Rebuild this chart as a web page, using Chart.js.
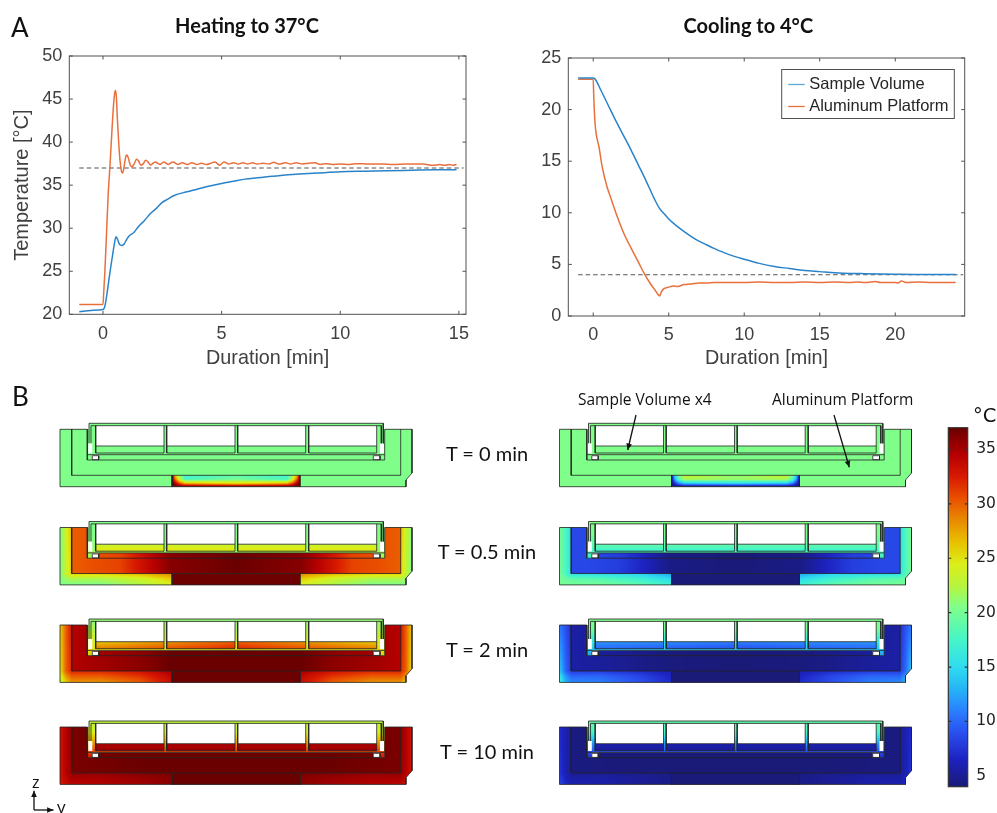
<!DOCTYPE html>
<html>
<head>
<meta charset="utf-8">
<title>Heating and cooling</title>
<script src="https://cdn.jsdelivr.net/npm/chart.js@4/dist/chart.umd.min.js"></script>
<style>
  html, body { margin: 0; padding: 0; background: #fff; }
  body { width: 997px; height: 813px; position: relative; overflow: hidden; }
  canvas { position: absolute; filter: blur(0.4px); }
  .lbl { position: absolute; white-space: nowrap; color: #111; font-family: Lato, sans-serif; line-height: 1; filter: blur(0.3px); }
</style>
</head>
<body>
<canvas id="heatChart" style="left:0;top:0"></canvas>
<canvas id="coolChart" style="left:500px;top:0"></canvas>
<canvas id="mapChart" style="left:0;top:380px"></canvas>
<canvas id="barChart" style="left:940px;top:400px"></canvas>

<div class="lbl" style="left:11px;top:14px;font-size:26px">A</div>
<div class="lbl" style="left:12px;top:383px;font-size:26px">B</div>
<div class="lbl" style="left:578px;top:392px;font-size:15.5px;font-family:'Open Sans'">Sample Volume x4</div>
<div class="lbl" style="left:772px;top:392px;font-size:15.5px;font-family:'Open Sans'">Aluminum Platform</div>
<div class="lbl" style="left:973px;top:406px;font-size:19.5px;font-family:'DejaVu Sans'">°C</div>
<div class="lbl" style="left:32px;top:774px;font-size:16px;font-family:'Open Sans'">z</div>
<div class="lbl" style="left:57px;top:798px;font-size:17px;font-family:'Open Sans'">y</div>
<div id="timeLabels"></div>

<script>
// panel A
const heatTicksX = [0, 5, 10, 15];
const heatTicksY = [20, 25, 30, 35, 40, 45, 50];
const coolTicksX = [0, 5, 10, 15, 20];
const coolTicksY = [0, 5, 10, 15, 20, 25];
const barTicks = [5, 10, 15, 20, 25, 30, 35];

const heatSampleT = [-1, -0.5, 0, 0.05, 0.1, 0.2, 0.3, 0.4, 0.5, 0.55, 0.6, 0.7, 0.8, 0.9, 1, 1.1, 1.3, 1.5, 1.75, 2, 2.25, 2.5, 2.75, 3, 3.5, 4, 4.5, 5, 5.5, 6, 6.5, 7, 8, 9, 10, 11, 12, 13, 14, 14.9];
const heatSampleV = [20.3, 20.45, 20.55, 20.7, 21.2, 23, 25, 26.8, 28.5, 29, 28.8, 28.1, 28, 28.2, 28.7, 29.1, 29.5, 30.2, 30.9, 31.7, 32.3, 33, 33.4, 33.8, 34.2, 34.55, 34.9, 35.2, 35.45, 35.7, 35.85, 36, 36.25, 36.4, 36.55, 36.62, 36.68, 36.73, 36.78, 36.8];

const heatPlateT = [-1, 0, 0.03, 0.08, 0.15, 0.22, 0.3, 0.38, 0.45, 0.5, 0.53, 0.57, 0.6, 0.66, 0.72, 0.78, 0.82, 0.87, 0.92, 0.97, 1, 1.05, 1.12, 1.21, 1.3, 1.42, 1.5, 1.6, 1.7, 1.8, 1.9, 2, 2.2, 2.4, 2.55, 2.75, 2.95, 3.15, 3.35, 3.55, 3.75, 3.95, 4.15, 4.35, 4.55, 4.72, 4.92, 5.1, 5.3, 5.5, 5.7, 5.9, 6.1, 6.3, 6.5, 6.75, 7, 7.2, 7.4, 7.7, 7.9, 8.15, 8.4, 8.65, 8.95, 9.15, 9.4, 9.65, 10, 10.4, 10.7, 11.2, 11.8, 12.2, 12.8, 13.5, 13.9, 14.2, 14.4, 14.6, 14.75, 14.9];
const heatPlateV = [21.15, 21.15, 22.5, 25, 29.5, 34, 37.5, 41.5, 44.5, 45.8, 46, 45, 43, 40, 37.8, 36.6, 36.4, 36.8, 37.7, 38.4, 38.5, 38.3, 37.6, 37.1, 37.4, 38, 37.8, 37.3, 37.5, 37.9, 37.7, 37.35, 37.7, 37.4, 37.7, 37.4, 37.7, 37.4, 37.6, 37.4, 37.6, 37.4, 37.55, 37.4, 37.55, 37.7, 37.3, 37.7, 37.45, 37.6, 37.45, 37.6, 37.45, 37.6, 37.45, 37.55, 37.45, 37.65, 37.45, 37.6, 37.45, 37.6, 37.45, 37.55, 37.6, 37.4, 37.5, 37.4, 37.45, 37.4, 37.5, 37.45, 37.45, 37.4, 37.45, 37.45, 37.3, 37.4, 37.3, 37.4, 37.3, 37.4];

const coolSampleT = [-1, 0, 0.1, 0.5, 1, 1.5, 2, 2.5, 3, 3.5, 4, 4.4, 4.7, 5, 5.5, 6, 6.5, 7, 7.5, 8, 9, 10, 11, 12, 13, 14, 15, 16, 17, 18, 20, 22, 24];
const coolSampleV = [23.05, 23.05, 23, 21.9, 20.4, 18.9, 17.5, 16.1, 14.6, 13.1, 11.5, 10.4, 9.9, 9.4, 8.75, 8.2, 7.7, 7.25, 6.9, 6.55, 5.95, 5.5, 5.1, 4.8, 4.6, 4.4, 4.3, 4.2, 4.13, 4.1, 4.05, 4.02, 4.02];

const coolPlateT = [-1, 0, 0.03, 0.07, 0.12, 0.2, 0.38, 0.6, 0.9, 1.22, 1.6, 2.03, 2.5, 3, 3.42, 3.8, 4.1, 4.4, 4.5, 4.64, 5, 5.3, 5.6, 6, 6.5, 7, 7.5, 8, 9, 10, 11, 12, 13, 14, 15, 16, 17, 17.5, 18, 18.7, 19, 20, 20.2, 20.4, 20.7, 21.5, 22.5, 24];
const coolPlateV = [22.95, 22.95, 21.5, 20, 18.7, 17.6, 16.4, 14.4, 12.6, 11.2, 9.6, 8, 6.6, 5.2, 4, 3.1, 2.5, 1.94, 2.3, 2.6, 2.8, 2.9, 2.85, 3.05, 3.1, 3.2, 3.2, 3.25, 3.25, 3.25, 3.3, 3.25, 3.25, 3.3, 3.25, 3.3, 3.25, 3.3, 3.25, 3.35, 3.25, 3.25, 3.2, 3.4, 3.25, 3.3, 3.25, 3.25];

const heatTarget = 37;
const coolTarget = 4;

// colour bar stops
const mapTemps = [4, 6.5, 9, 11, 13, 15, 17.5, 20.5, 22.5, 24.5, 26.5, 28.5, 30.5, 32.5, 34.5, 37];
const mapColors = ['#1a1a78', '#1c22c0', '#2a50f0', '#2a80ff', '#25b5f5', '#2fdcf0', '#45f5c8', '#7fff8a', '#b8f53c', '#dcee18', '#e8c000', '#e88a00', '#ea5000', '#d81a00', '#b50000', '#6a0000'];

// panel B, one row per section: heating 0, 0.5, 2, 10 min then cooling the same
const timeLabels = ['T = 0 min', 'T = 0.5 min', 'T = 2 min', 'T = 10 min'];

// half of a section, mirrored about its centre line
const skirtCols = [0, 6, 11.7, 40, 80, 112];
const skirtRows = [6, 52, 57.5, 63.4];
const skirtHeat = [
  [[20.5,20.5,20.5,20.5,20.5,20.5],[20.5,20.5,20.5,20.5,20.5,20.5],[20.5,20.5,20.5,20.5,20.5,20.5],[20.5,20.5,20.5,20.5,20.5,20.5]],
  [[20.5,23.5,27,27,27,27],[20.5,23,26,26,27,29],[20.5,21.5,22,22,23.5,26],[20.5,20.5,20.5,20.5,22,24]],
  [[26,30,33,33,33,33],[25,30,32,32,33,35],[23.5,28,30,30,31.5,34],[22.5,26,28,28,30,33.5]],
  [[33,34.5,36,36,36,36],[33,34.5,35.5,35.5,36,36.5],[33,34,35,35,35.5,36],[32.5,33.5,34,34.5,35,36]],
  [[20.5,20.5,20.5,20.5,20.5,20.5],[20.5,20.5,20.5,20.5,20.5,20.5],[20.5,20.5,20.5,20.5,20.5,20.5],[20.5,20.5,20.5,20.5,20.5,20.5]],
  [[20,18,15,15,15,15],[20,18,15.5,15,14.5,12],[20,19.5,19,18.5,17,15],[20.5,20,20,20,19,17]],
  [[10.5,9,7,7,7,7],[14,10,8,8,7,6],[16,12,10,10,8.5,6.5],[17,13,11.5,11,9,7]],
  [[7,6,5,5,5,5],[7.5,6,5,5,4.8,4.5],[8,6.5,5.5,5.5,5,4.5],[8.5,7,6,5.8,5,4.6]]
];

const plateCols = [11.7, 30, 60, 85, 110, 176];
const plateHeat = [
  [20.5, 20.5, 20.5, 20.5, 20.5, 20.5],
  [30, 30.5, 31, 33.5, 36, 37],
  [34.5, 35, 35.5, 36, 37, 37],
  [36.5, 36.6, 36.8, 37, 37, 37],
  [20.5, 20.5, 20.5, 20.5, 20.5, 20.5],
  [8.5, 8.5, 8, 6.5, 4.5, 4],
  [5.5, 5.3, 5, 4.5, 4.2, 4],
  [4.2, 4.2, 4.1, 4, 4, 4]
];

// the hot or cold block under the platform at T = 0, later it is at its set point
const blockCols = [112, 115, 119, 125, 176];
const blockRows = [52, 56, 60, 63.4];
const blockHeatStart = [[37,27,22,17,19],[37,30,24,18,20],[37,35,31,27,25],[37,37,37,37,37]];
const blockCoolStart = [[4,14,20,23,21],[4,12,18,22,21.5],[4,7,11,14,15],[4,4,4,4,4]];
const blockLater = [36.9, 36.9, 37, 4, 4, 4];

const trayRows = [0, 10, 22, 36.7];
const trayHeat = [
  [20.5, 20.5, 20.5, 20.5], [20.5, 20.5, 21, 22], [21, 22, 24, 26], [22.5, 24, 28, 33],
  [20.5, 20.5, 20.5, 20.5], [20.5, 20.5, 19, 17], [20.5, 20, 16, 12], [19, 18, 12, 7]
];

const sampleCols = [35, 176];
const sampleRows = [22.7, 29.7];
const sampleHeat = [
  [[20.5,20.5],[20.5,20.5]], [[23.5,23.5],[25,25]], [[26,30],[29,32]], [[34.5,34.5],[35.5,35.5]],
  [[20.5,20.5],[20.5,20.5]], [[19,19],[17,17]], [[12,11],[10,9]], [[6,6],[5,5]]
];

// section drawing, units are roughly one pixel of the figure
const outerShape = [[0,6],[27.3,6],[27.3,36.7],[324.7,36.7],[324.7,6],[352,6],[352,49.7],[346,56.7],[346,63.4],[0,63.4],[0,6]];
const plateShape = [[11.7,6],[27.3,6],[27.3,36.7],[38.7,36.7],[38.7,31.4],[313.3,31.4],[313.3,36.7],[324.7,36.7],[324.7,6],[340.7,6],[340.7,52],[11.7,52],[11.7,6]];
const blockShape = [[112,52],[240,52],[240,63.4],[112,63.4],[112,52]];
const trayShape = [[29,0],[323.3,0],[323.3,6],[324.7,6],[324.7,36.7],[320,36.7],[320,31.4],[32.3,31.4],[32.3,36.7],[27.3,36.7],[27.3,6],[29,6],[29,0]];
const wellEdges = [[35.7,104],[106.7,175],[177.7,245.7],[248.7,316.7]];
const gapShapes = [
  [[28.3,20],[32.3,20],[32.3,30],[28.3,30]],
  [[320,20],[324,20],[324,30],[320,30]]
];
const notchShapes = [
  [[32.3,32.4],[38.7,32.4],[38.7,36.4],[32.3,36.4],[32.3,32.4]],
  [[313.3,32.4],[320,32.4],[320,36.4],[313.3,36.4],[313.3,32.4]]
];
const sectionLines = [
  outerShape,
  [[11.7,6],[11.7,52],[340.7,52],[340.7,6]],
  [[112,52],[112,63.4]],
  [[240,52],[240,63.4]],
  [[29,20],[29,0],[323.3,0],[323.3,20]],
  [[31,20],[31,2.4],[321.3,2.4],[321.3,20]],
  [[27.3,31.4],[324.7,31.4]],
  notchShapes[0],
  notchShapes[1]
];
const columnX = [60, 559.5];
const rowY = [423.3, 521.5, 619, 721];

const arrowStart = [[636, 415], [834, 415], [34, 810], [34, 810]];
const arrowEnd = [[627.7, 450], [849.3, 467.3], [34, 790.7], [53.5, 810]];

const axisGrey = '#505050';
const textGrey = '#404040';
const blue = '#2a83c9';
const orange = '#e9703c';
const dashGrey = '#555';

function hexRgb(h) {
  return [parseInt(h.substr(1, 2), 16), parseInt(h.substr(3, 2), 16), parseInt(h.substr(5, 2), 16)];
}
const mapRgb = mapColors.map(hexRgb);

function heatRgb(t) {
  if (t <= mapTemps[0]) return mapRgb[0];
  for (let i = 1; i < mapTemps.length; i++) {
    if (t <= mapTemps[i]) {
      const f = (t - mapTemps[i - 1]) / (mapTemps[i] - mapTemps[i - 1]);
      return mapRgb[i].map((c, k) => mapRgb[i - 1][k] + (c - mapRgb[i - 1][k]) * f);
    }
  }
  return mapRgb[mapRgb.length - 1];
}

function pairUp(xs, ys) {
  return xs.map((x, i) => ({ x: x, y: ys[i] }));
}

function findCell(list, v) {
  if (v <= list[0]) return [0, 0, 0];
  for (let i = 1; i < list.length; i++) {
    if (v <= list[i]) return [i - 1, i, (v - list[i - 1]) / (list[i] - list[i - 1])];
  }
  return [list.length - 1, list.length - 1, 0];
}

function tracePath(ctx, chart, ox, oy, shape) {
  const sx = chart.scales.x, sy = chart.scales.y;
  ctx.beginPath();
  shape.forEach((p, i) => {
    const px = sx.getPixelForValue(ox + p[0]), py = sy.getPixelForValue(oy + p[1]);
    if (i === 0) ctx.moveTo(px, py); else ctx.lineTo(px, py);
  });
  ctx.closePath();
}

// fills a shape from a small grid of temperatures
function fillHeat(chart, ox, oy, shape, cols, rows, grid) {
  const ctx = chart.ctx, sx = chart.scales.x, sy = chart.scales.y;
  const pxs = shape.map(p => sx.getPixelForValue(ox + p[0]));
  const pys = shape.map(p => sy.getPixelForValue(oy + p[1]));
  const left = Math.floor(Math.min(...pxs)), top = Math.floor(Math.min(...pys));
  const w = Math.ceil(Math.max(...pxs)) - left, h = Math.ceil(Math.max(...pys)) - top;
  const off = document.createElement('canvas');
  off.width = w; off.height = h;
  const octx = off.getContext('2d');
  const img = octx.createImageData(w, h);
  for (let j = 0; j < h; j++) {
    const ly = sy.getValueForPixel(top + j + 0.5) - oy;
    const r = findCell(rows, ly);
    for (let i = 0; i < w; i++) {
      let lx = sx.getValueForPixel(left + i + 0.5) - ox;
      if (lx > 176) lx = 352 - lx;
      const c = findCell(cols, lx);
      const a = grid[r[0]][c[0]] + (grid[r[0]][c[1]] - grid[r[0]][c[0]]) * c[2];
      const b = grid[r[1]][c[0]] + (grid[r[1]][c[1]] - grid[r[1]][c[0]]) * c[2];
      const rgb = heatRgb(a + (b - a) * r[2]);
      const n = (j * w + i) * 4;
      img.data[n] = rgb[0]; img.data[n + 1] = rgb[1]; img.data[n + 2] = rgb[2]; img.data[n + 3] = 255;
    }
  }
  octx.putImageData(img, 0, 0);
  ctx.save();
  tracePath(ctx, chart, ox, oy, shape);
  ctx.clip();
  ctx.drawImage(off, left, top);
  ctx.restore();
}

function whiteOut(chart, ox, oy, shape) {
  tracePath(chart.ctx, chart, ox, oy, shape);
  chart.ctx.fillStyle = '#fff';
  chart.ctx.fill();
}

const sectionFills = {
  id: 'sectionFills',
  beforeDatasetsDraw(chart) {
    for (let n = 0; n < 8; n++) {
      const ox = columnX[n < 4 ? 0 : 1], oy = rowY[n % 4];
      fillHeat(chart, ox, oy, outerShape, skirtCols, skirtRows, skirtHeat[n]);
      fillHeat(chart, ox, oy, plateShape, plateCols, [0, 63.4], [plateHeat[n], plateHeat[n]]);
      let block;
      if (n === 0) block = blockHeatStart;
      else if (n === 4) block = blockCoolStart;
      else {
        const v = blockLater[n < 4 ? n - 1 : n - 2];
        block = blockRows.map(() => blockCols.map(() => v));
      }
      fillHeat(chart, ox, oy, blockShape, blockCols, blockRows, block);
      const trayGrid = trayHeat[n].map(v => [v, v]);
      fillHeat(chart, ox, oy, trayShape, [0, 176], trayRows, trayGrid);
      wellEdges.forEach(e => {
        const band = [[e[0], 22.7], [e[1], 22.7], [e[1], 29.7], [e[0], 29.7]];
        fillHeat(chart, ox, oy, band, sampleCols, sampleRows, sampleHeat[n]);
        whiteOut(chart, ox, oy, [[e[0], 2.4], [e[1], 2.4], [e[1], 22.7], [e[0], 22.7]]);
      });
      gapShapes.concat(notchShapes).forEach(s => whiteOut(chart, ox, oy, s));
    }
  },
  afterDatasetsDraw(chart) {
    // pointers and the z-y axes
    const ctx = chart.ctx, sx = chart.scales.x, sy = chart.scales.y;
    ctx.save();
    ctx.strokeStyle = '#111';
    ctx.fillStyle = '#111';
    ctx.lineWidth = 1.3;
    arrowStart.forEach((s, i) => {
      const x0 = sx.getPixelForValue(s[0]), y0 = sy.getPixelForValue(s[1]);
      const x1 = sx.getPixelForValue(arrowEnd[i][0]), y1 = sy.getPixelForValue(arrowEnd[i][1]);
      const a = Math.atan2(y1 - y0, x1 - x0);
      ctx.beginPath(); ctx.moveTo(x0, y0); ctx.lineTo(x1, y1); ctx.stroke();
      ctx.beginPath();
      ctx.moveTo(x1, y1);
      ctx.lineTo(x1 - 7 * Math.cos(a - 0.42), y1 - 7 * Math.sin(a - 0.42));
      ctx.lineTo(x1 - 7 * Math.cos(a + 0.42), y1 - 7 * Math.sin(a + 0.42));
      ctx.closePath();
      ctx.fill();
    });
    ctx.restore();
  }
};

// box with ticks pointing inwards on all sides
const axisFrame = {
  id: 'axisFrame',
  afterLayout(chart) {
    // the titles sit over the whole figure column, not over the axes
    if (chart.options.titleShift && chart.titleBlock) {
      chart.titleBlock.left += chart.options.titleShift;
      chart.titleBlock.right += chart.options.titleShift;
    }
  },
  afterDatasetsDraw(chart) {
    const ctx = chart.ctx, a = chart.chartArea;
    const len = chart.options.frameTick;
    ctx.save();
    ctx.strokeStyle = chart.options.frameColor;
    ctx.lineWidth = chart.options.frameWidth;
    ctx.strokeRect(a.left, a.top, a.right - a.left, a.bottom - a.top);
    ctx.beginPath();
    if (chart.scales.x.options.display !== false) {
      chart.scales.x.ticks.forEach(t => {
        const x = chart.scales.x.getPixelForValue(t.value);
        ctx.moveTo(x, a.bottom); ctx.lineTo(x, a.bottom - len);
        ctx.moveTo(x, a.top); ctx.lineTo(x, a.top + len);
      });
    }
    chart.scales.y.ticks.forEach(t => {
      const y = chart.scales.y.getPixelForValue(t.value);
      ctx.moveTo(a.left, y); ctx.lineTo(a.left + len, y);
      ctx.moveTo(a.right, y); ctx.lineTo(a.right - len, y);
    });
    ctx.stroke();
    ctx.restore();
  }
};

// legend sits inside the axes, top right
const insideLegend = {
  id: 'insideLegend',
  afterDraw(chart) {
    const o = chart.options.insideLegend;
    if (!o) return;
    const ctx = chart.ctx;
    ctx.save();
    ctx.fillStyle = '#fff';
    ctx.fillRect(o.x, o.y, o.w, o.h);
    ctx.strokeStyle = axisGrey;
    ctx.lineWidth = 1;
    ctx.strokeRect(o.x, o.y, o.w, o.h);
    ctx.font = '16.5px "Liberation Sans"';
    ctx.textBaseline = 'middle';
    chart.data.datasets.filter(d => d.label).forEach((d, i) => {
      const y = o.y + 15 + i * 22;
      ctx.strokeStyle = d.legendColor;
      ctx.lineWidth = 1.3;
      ctx.beginPath(); ctx.moveTo(o.x + 6.5, y); ctx.lineTo(o.x + 23, y); ctx.stroke();
      ctx.fillStyle = '#262626';
      ctx.fillText(d.label, o.x + 27.5, y);
    });
    ctx.restore();
  }
};

function curve(label, xs, ys, color, legendColor) {
  return {
    label: label, legendColor: legendColor,
    data: pairUp(xs, ys), showLine: true, borderColor: color, backgroundColor: color,
    borderWidth: 1.5, pointRadius: 0, cubicInterpolationMode: 'monotone', fill: false
  };
}

function targetLine(x0, x1, v) {
  return {
    data: [{ x: x0, y: v }, { x: x1, y: v }], showLine: true, borderColor: dashGrey,
    borderWidth: 1.1, borderDash: [4.5, 3], pointRadius: 0, fill: false
  };
}

function lineChart(id, w, opt) {
  const cv = document.getElementById(id);
  cv.width = w; cv.height = 380;
  cv.style.width = w + 'px'; cv.style.height = '380px';
  return new Chart(cv, {
    type: 'scatter',
    data: { datasets: opt.datasets },
    plugins: [axisFrame, insideLegend],
    options: {
      responsive: false, animation: false, devicePixelRatio: 1,
      frameColor: axisGrey, frameWidth: 1, frameTick: 3.5,
      titleShift: opt.titleShift,
      insideLegend: opt.legend,
      layout: { padding: { right: opt.right, left: 0, top: 0, bottom: 0 } },
      plugins: {
        legend: { display: false },
        tooltip: { enabled: false },
        title: {
          display: true, text: opt.title, color: '#111',
          font: { family: 'Lato', size: 20, weight: 'bold', lineHeight: 1.2 },
          padding: { top: 15, bottom: opt.top - 39 }
        }
      },
      scales: {
        x: {
          type: 'linear', min: opt.xMin, max: opt.xMax,
          grid: { display: false, drawTicks: false }, border: { display: false },
          afterBuildTicks(s) { s.ticks = opt.xTicks.map(v => ({ value: v })); },
          afterFit(s) { s.height = opt.xHeight; },
          ticks: { color: textGrey, padding: 8.5, maxRotation: 0, font: { family: 'Liberation Sans', size: 18 } },
          title: {
            display: true, text: 'Duration [min]', color: textGrey,
            font: { family: 'Liberation Sans', size: 19.8, lineHeight: 1.2 },
            padding: { top: 0, bottom: 10 }
          }
        },
        y: {
          type: 'linear', min: opt.yMin, max: opt.yMax,
          grid: { display: false, drawTicks: false }, border: { display: false },
          afterBuildTicks(s) { s.ticks = opt.yTicks.map(v => ({ value: v })); },
          afterFit(s) { s.width = opt.yWidth; },
          ticks: { color: textGrey, padding: 7, font: { family: 'Liberation Sans', size: 18 } },
          title: {
            display: !!opt.yTitle, text: opt.yTitle || '', color: textGrey,
            font: { family: 'Liberation Sans', size: 20, lineHeight: 1.2 },
            padding: { top: 10.5, bottom: 0 }
          }
        }
      }
    }
  });
}

lineChart('heatChart', 493, {
  title: 'Heating to 37°C', top: 56, right: 27, xHeight: 65.7, yWidth: 69.3, titleShift: 14,
  xMin: -1.42, xMax: 15.3, yMin: 20, yMax: 50,
  xTicks: heatTicksX, yTicks: heatTicksY, yTitle: 'Temperature [°C]',
  datasets: [
    curve('', heatSampleT, heatSampleV, blue, blue),
    curve('', heatPlateT, heatPlateV, orange, orange),
    targetLine(-1, 15.2, heatTarget)
  ]
});

lineChart('coolChart', 497, {
  title: 'Cooling to 4°C', top: 58, right: 32.3, xHeight: 64, yWidth: 68.3, titleShift: 16,
  xMin: -1.65, xMax: 24.6, yMin: 0, yMax: 25,
  xTicks: coolTicksX, yTicks: coolTicksY,
  legend: { x: 281.7, y: 69.5, w: 172.6, h: 49 },
  datasets: [
    curve('Sample Volume', coolSampleT, coolSampleV, blue, '#5ea8d8'),
    curve('Aluminum Platform', coolPlateT, coolPlateV, orange, orange),
    targetLine(-1, 24.5, coolTarget)
  ]
});

// outlines of all eight sections go through the library as broken lines
function outlinePoints(ox, oy) {
  const pts = [];
  sectionLines.forEach(line => {
    line.forEach(p => pts.push({ x: ox + p[0], y: oy + p[1] }));
    pts.push({ x: null, y: null });
  });
  wellEdges.forEach(e => {
    [[e[0], 2.4], [e[0], 29.7], [e[1], 29.7], [e[1], 2.4]].forEach(p => pts.push({ x: ox + p[0], y: oy + p[1] }));
    pts.push({ x: null, y: null });
    pts.push({ x: ox + e[0], y: oy + 22.7 }, { x: ox + e[1], y: oy + 22.7 }, { x: null, y: null });
  });
  return pts;
}

const mapSets = [];
columnX.forEach(ox => rowY.forEach(oy => {
  mapSets.push({
    data: outlinePoints(ox, oy), showLine: true, spanGaps: false, tension: 0,
    borderColor: 'rgba(35,35,35,0.8)', borderWidth: 1, pointRadius: 0, fill: false
  });
}));

const mapCv = document.getElementById('mapChart');
mapCv.width = 945; mapCv.height = 433;
mapCv.style.width = '945px'; mapCv.style.height = '433px';
new Chart(mapCv, {
  type: 'scatter',
  data: { datasets: mapSets },
  plugins: [sectionFills],
  options: {
    responsive: false, animation: false, devicePixelRatio: 1,
    layout: { padding: 0 },
    plugins: { legend: { display: false }, tooltip: { enabled: false } },
    scales: {
      x: { type: 'linear', display: false, min: 0, max: 945 },
      y: { type: 'linear', display: false, min: 380, max: 813, reverse: true }
    }
  }
});

const barCv = document.getElementById('barChart');
barCv.width = 57; barCv.height = 400;
barCv.style.width = '57px'; barCv.style.height = '400px';
new Chart(barCv, {
  type: 'bar',
  data: {
    labels: ['T'],
    datasets: [{
      data: [[mapTemps[0], mapTemps[mapTemps.length - 1]]],
      barPercentage: 1, categoryPercentage: 1,
      backgroundColor(c) {
        const a = c.chart.chartArea;
        if (!a) return '#888';
        const g = c.chart.ctx.createLinearGradient(0, a.bottom, 0, a.top);
        mapTemps.forEach((t, i) => g.addColorStop((t - mapTemps[0]) / (mapTemps[mapTemps.length - 1] - mapTemps[0]), mapColors[i]));
        return g;
      }
    }]
  },
  plugins: [axisFrame],
  options: {
    responsive: false, animation: false, devicePixelRatio: 1,
    frameColor: '#333', frameWidth: 1.2, frameTick: 3,
    layout: { padding: { left: 8.3, top: 27.7, bottom: 13.3, right: 0 } },
    plugins: { legend: { display: false }, tooltip: { enabled: false } },
    scales: {
      x: { display: false },
      y: {
        position: 'right', type: 'linear', min: mapTemps[0], max: mapTemps[mapTemps.length - 1],
        grid: { display: false, drawTicks: false }, border: { display: false },
        afterBuildTicks(s) { s.ticks = barTicks.map(v => ({ value: v })); },
        afterFit(s) { s.width = 29.3; s.paddingTop = 0; s.paddingBottom = 0; },
        ticks: { color: '#222', padding: 8.5, font: { family: 'DejaVu Sans', size: 15.5 } }
      }
    }
  }
});

const timeBox = document.getElementById('timeLabels');
const timeCentreY = [453, 551, 649, 751];
timeLabels.forEach((t, i) => {
  const d = document.createElement('div');
  d.className = 'lbl';
  d.textContent = t;
  d.style.cssText = 'left:487px;top:' + timeCentreY[i] + 'px;font-size:20px;transform:translate(-50%,-50%)';
  timeBox.appendChild(d);
});
</script>
</body>
</html>
